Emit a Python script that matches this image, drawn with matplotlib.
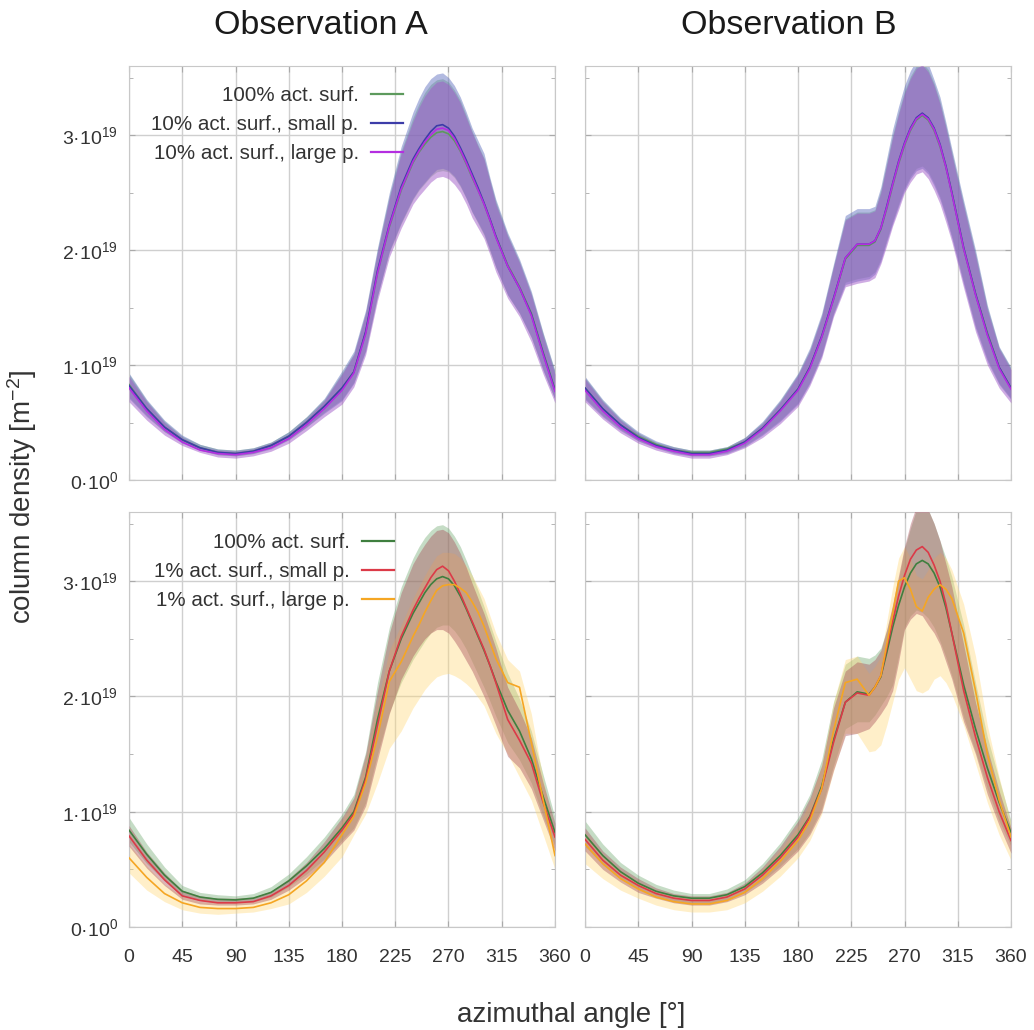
import matplotlib.pyplot as plt
from matplotlib.ticker import MultipleLocator
import numpy as np

plt.rcParams['font.family'] = ['Liberation Sans', 'DejaVu Sans']
plt.rcParams['mathtext.default'] = 'regular'

# azimuthal angle grid [deg], finer around the maxima
angles = [0, 15, 30, 45, 60, 75, 90, 105, 120, 135, 150, 165, 180, 190, 200, 210, 220, 230,
          240, 245, 250, 255, 260, 265, 270, 275, 280, 285, 290, 295, 300, 305, 310,
          320, 330, 340, 350, 360]

# --- Observation A, top (units of 1e19 m^-2) ---
a_top_100 = [0.83, 0.62, 0.46, 0.35, 0.28, 0.24, 0.23, 0.25, 0.30, 0.38, 0.50, 0.64, 0.80, 0.94, 1.28, 1.80, 2.20, 2.52,
             2.76, 2.85, 2.92, 2.98, 3.02, 3.03, 3.01, 2.95, 2.86, 2.75, 2.63, 2.52, 2.40, 2.26, 2.12,
             1.87, 1.68, 1.45, 1.11, 0.79]
a_top_100_lo = [0.72, 0.56, 0.42, 0.33, 0.26, 0.22, 0.21, 0.23, 0.28, 0.35, 0.46, 0.59, 0.70, 0.85, 1.13, 1.60, 1.98, 2.23,
                2.44, 2.52, 2.58, 2.64, 2.68, 2.69, 2.68, 2.63, 2.55, 2.45, 2.33, 2.23, 2.13, 1.99, 1.85,
                1.61, 1.45, 1.24, 0.96, 0.70]
a_top_100_hi = [0.92, 0.69, 0.51, 0.38, 0.31, 0.27, 0.26, 0.28, 0.33, 0.42, 0.55, 0.70, 0.93, 1.10, 1.46, 2.00, 2.47, 2.86,
                3.15, 3.27, 3.37, 3.44, 3.48, 3.49, 3.46, 3.39, 3.30, 3.17, 3.03, 2.91, 2.80, 2.61, 2.42,
                2.13, 1.90, 1.62, 1.27, 0.94]
a_top_10s = [0.82, 0.62, 0.46, 0.35, 0.28, 0.24, 0.23, 0.25, 0.30, 0.38, 0.50, 0.64, 0.80, 0.94, 1.29, 1.82, 2.22, 2.55,
             2.79, 2.88, 2.96, 3.03, 3.08, 3.09, 3.06, 2.99, 2.89, 2.78, 2.66, 2.54, 2.41, 2.27, 2.12,
             1.86, 1.67, 1.44, 1.10, 0.78]
a_top_10s_lo = [0.71, 0.55, 0.42, 0.32, 0.26, 0.22, 0.21, 0.23, 0.27, 0.35, 0.46, 0.58, 0.69, 0.84, 1.12, 1.60, 1.99, 2.24,
                2.45, 2.53, 2.59, 2.65, 2.70, 2.71, 2.69, 2.64, 2.56, 2.45, 2.33, 2.24, 2.14, 2.00, 1.85,
                1.61, 1.45, 1.24, 0.95, 0.70]
a_top_10s_hi = [0.93, 0.70, 0.52, 0.39, 0.31, 0.27, 0.26, 0.28, 0.33, 0.42, 0.55, 0.71, 0.95, 1.12, 1.48, 2.02, 2.50, 2.90,
                3.20, 3.32, 3.42, 3.49, 3.53, 3.54, 3.50, 3.43, 3.33, 3.20, 3.06, 2.95, 2.84, 2.63, 2.44,
                2.15, 1.92, 1.64, 1.28, 0.95]
a_top_10l = [0.80, 0.60, 0.44, 0.33, 0.26, 0.23, 0.22, 0.24, 0.28, 0.36, 0.48, 0.62, 0.78, 0.93, 1.27, 1.80, 2.21, 2.53,
             2.77, 2.86, 2.94, 3.00, 3.05, 3.06, 3.04, 2.97, 2.87, 2.76, 2.64, 2.52, 2.40, 2.26, 2.11,
             1.86, 1.67, 1.43, 1.09, 0.77]
a_top_10l_lo = [0.68, 0.52, 0.39, 0.30, 0.24, 0.20, 0.19, 0.21, 0.25, 0.32, 0.43, 0.55, 0.66, 0.81, 1.09, 1.56, 1.94, 2.19,
                2.40, 2.47, 2.53, 2.59, 2.63, 2.64, 2.62, 2.57, 2.50, 2.40, 2.28, 2.19, 2.10, 1.96, 1.81,
                1.58, 1.42, 1.20, 0.92, 0.67]
a_top_10l_hi = [0.90, 0.68, 0.50, 0.37, 0.29, 0.26, 0.25, 0.27, 0.32, 0.40, 0.53, 0.69, 0.92, 1.09, 1.45, 1.98, 2.45, 2.84,
                3.12, 3.24, 3.34, 3.41, 3.46, 3.47, 3.44, 3.37, 3.28, 3.15, 3.02, 2.90, 2.79, 2.60, 2.40,
                2.12, 1.89, 1.61, 1.25, 0.92]

# --- Observation B, top ---
b_top_100 = [0.80, 0.62, 0.48, 0.38, 0.31, 0.26, 0.24, 0.24, 0.27, 0.33, 0.45, 0.61, 0.79, 0.98, 1.24, 1.57, 1.92, 2.04,
             2.04, 2.07, 2.18, 2.36, 2.56, 2.75, 2.91, 3.04, 3.13, 3.17, 3.13, 3.04, 2.90, 2.72, 2.50,
             2.01, 1.62, 1.28, 0.98, 0.80]
b_top_100_lo = [0.71, 0.56, 0.44, 0.34, 0.28, 0.24, 0.21, 0.21, 0.24, 0.30, 0.40, 0.52, 0.67, 0.85, 1.09, 1.45, 1.72, 1.75,
                1.77, 1.81, 1.92, 2.09, 2.25, 2.40, 2.54, 2.64, 2.71, 2.73, 2.68, 2.58, 2.46, 2.30, 2.12,
                1.72, 1.34, 1.05, 0.84, 0.71]
b_top_100_hi = [0.89, 0.69, 0.53, 0.41, 0.33, 0.29, 0.26, 0.26, 0.29, 0.37, 0.50, 0.69, 0.92, 1.13, 1.43, 1.86, 2.27, 2.33,
                2.33, 2.35, 2.52, 2.76, 3.00, 3.20, 3.38, 3.51, 3.60, 3.63, 3.57, 3.45, 3.29, 3.08, 2.85,
                2.40, 1.97, 1.50, 1.15, 0.97]
b_top_10s = [0.80, 0.62, 0.48, 0.37, 0.30, 0.26, 0.23, 0.23, 0.26, 0.33, 0.45, 0.61, 0.79, 0.98, 1.25, 1.58, 1.93, 2.05,
             2.05, 2.08, 2.19, 2.38, 2.58, 2.77, 2.93, 3.06, 3.15, 3.19, 3.15, 3.06, 2.92, 2.73, 2.50,
             2.02, 1.62, 1.27, 0.98, 0.80]
b_top_10s_lo = [0.70, 0.55, 0.43, 0.34, 0.28, 0.23, 0.21, 0.21, 0.23, 0.29, 0.39, 0.51, 0.66, 0.84, 1.08, 1.44, 1.70, 1.73,
                1.75, 1.79, 1.90, 2.07, 2.23, 2.38, 2.52, 2.62, 2.69, 2.71, 2.66, 2.56, 2.44, 2.28, 2.10,
                1.70, 1.32, 1.03, 0.83, 0.70]
b_top_10s_hi = [0.90, 0.70, 0.54, 0.42, 0.34, 0.29, 0.26, 0.26, 0.29, 0.37, 0.51, 0.70, 0.93, 1.15, 1.45, 1.88, 2.30, 2.36,
                2.36, 2.38, 2.55, 2.80, 3.05, 3.25, 3.43, 3.56, 3.65, 3.68, 3.62, 3.48, 3.33, 3.11, 2.88,
                2.43, 2.00, 1.52, 1.16, 0.98]
b_top_10l = [0.78, 0.60, 0.46, 0.36, 0.29, 0.25, 0.22, 0.22, 0.25, 0.32, 0.44, 0.60, 0.78, 0.97, 1.24, 1.57, 1.93, 2.05,
             2.05, 2.08, 2.19, 2.37, 2.57, 2.76, 2.92, 3.05, 3.14, 3.18, 3.14, 3.05, 2.91, 2.72, 2.49,
             2.01, 1.61, 1.26, 0.97, 0.79]
b_top_10l_lo = [0.68, 0.53, 0.41, 0.32, 0.26, 0.22, 0.19, 0.19, 0.22, 0.28, 0.37, 0.49, 0.64, 0.82, 1.06, 1.42, 1.68, 1.71,
                1.73, 1.76, 1.88, 2.04, 2.21, 2.35, 2.50, 2.59, 2.66, 2.68, 2.62, 2.52, 2.40, 2.24, 2.07,
                1.67, 1.29, 1.00, 0.80, 0.67]
b_top_10l_hi = [0.88, 0.68, 0.52, 0.40, 0.32, 0.28, 0.25, 0.25, 0.28, 0.36, 0.49, 0.68, 0.91, 1.12, 1.42, 1.85, 2.26, 2.32,
                2.32, 2.34, 2.50, 2.74, 2.98, 3.18, 3.36, 3.49, 3.58, 3.61, 3.55, 3.43, 3.27, 3.06, 2.83,
                2.38, 1.95, 1.48, 1.14, 0.96]

# --- Observation A, bottom ---
a_bot_100 = [0.84, 0.63, 0.45, 0.31, 0.26, 0.24, 0.235, 0.25, 0.30, 0.40, 0.53, 0.68, 0.86, 1.00, 1.30, 1.80, 2.22, 2.50,
             2.72, 2.81, 2.90, 2.97, 3.02, 3.04, 3.02, 2.96, 2.87, 2.76, 2.64, 2.52, 2.40, 2.27, 2.13,
             1.88, 1.70, 1.46, 1.13, 0.82]
a_bot_100_lo = [0.74, 0.55, 0.40, 0.27, 0.23, 0.21, 0.21, 0.22, 0.26, 0.35, 0.46, 0.59, 0.75, 0.86, 1.08, 1.50, 1.86, 2.12,
                2.32, 2.40, 2.48, 2.55, 2.60, 2.62, 2.62, 2.57, 2.50, 2.41, 2.30, 2.19, 2.08, 1.96, 1.83,
                1.60, 1.45, 1.25, 0.96, 0.70]
a_bot_100_hi = [0.95, 0.72, 0.52, 0.36, 0.30, 0.28, 0.27, 0.29, 0.35, 0.46, 0.61, 0.78, 0.98, 1.15, 1.52, 2.12, 2.60, 2.95,
                3.20, 3.30, 3.38, 3.44, 3.48, 3.49, 3.46, 3.39, 3.30, 3.18, 3.05, 2.92, 2.78, 2.63, 2.48,
                2.20, 1.98, 1.70, 1.32, 0.95]
a_bot_1s = [0.79, 0.58, 0.41, 0.27, 0.23, 0.21, 0.21, 0.22, 0.27, 0.36, 0.49, 0.65, 0.84, 0.98, 1.28, 1.75, 2.22, 2.52,
            2.75, 2.85, 2.94, 3.03, 3.10, 3.13, 3.09, 3.00, 2.89, 2.77, 2.65, 2.53, 2.41, 2.27, 2.12,
            1.80, 1.62, 1.42, 1.08, 0.78]
a_bot_1s_lo = [0.70, 0.51, 0.36, 0.24, 0.20, 0.19, 0.19, 0.20, 0.24, 0.32, 0.43, 0.56, 0.73, 0.84, 1.05, 1.45, 1.85, 2.15,
               2.35, 2.43, 2.50, 2.55, 2.58, 2.58, 2.55, 2.48, 2.40, 2.31, 2.22, 2.11, 2.00, 1.88, 1.75,
               1.48, 1.38, 1.20, 0.93, 0.66]
a_bot_1s_hi = [0.88, 0.65, 0.47, 0.32, 0.27, 0.25, 0.25, 0.26, 0.31, 0.42, 0.56, 0.74, 0.95, 1.12, 1.50, 2.05, 2.55, 2.90,
               3.15, 3.24, 3.32, 3.39, 3.44, 3.45, 3.42, 3.34, 3.24, 3.12, 2.98, 2.85, 2.72, 2.57, 2.42,
               2.08, 1.88, 1.64, 1.25, 0.90]
a_bot_1l = [0.60, 0.43, 0.29, 0.21, 0.17, 0.16, 0.16, 0.17, 0.21, 0.28, 0.40, 0.56, 0.80, 0.96, 1.25, 1.65, 2.13, 2.30,
            2.52, 2.62, 2.73, 2.83, 2.92, 2.96, 2.97, 2.97, 2.94, 2.90, 2.82, 2.73, 2.61, 2.47, 2.33,
            2.12, 2.08, 1.60, 1.10, 0.62]
a_bot_1l_lo = [0.47, 0.32, 0.22, 0.15, 0.12, 0.11, 0.12, 0.13, 0.16, 0.20, 0.30, 0.44, 0.61, 0.80, 0.98, 1.25, 1.55, 1.70,
               1.90, 1.98, 2.06, 2.12, 2.17, 2.19, 2.20, 2.18, 2.15, 2.11, 2.06, 1.99, 1.92, 1.80, 1.68,
               1.50, 1.30, 1.10, 0.80, 0.50]
a_bot_1l_hi = [0.72, 0.53, 0.37, 0.27, 0.22, 0.21, 0.21, 0.22, 0.27, 0.36, 0.50, 0.68, 0.92, 1.10, 1.45, 1.95, 2.40, 2.62,
               2.85, 2.95, 3.05, 3.14, 3.22, 3.25, 3.25, 3.24, 3.20, 3.13, 3.05, 2.95, 2.85, 2.70, 2.55,
               2.32, 2.22, 1.85, 1.28, 0.75]

# --- Observation B, bottom ---
b_bot_100 = [0.80, 0.62, 0.48, 0.38, 0.31, 0.27, 0.25, 0.25, 0.28, 0.35, 0.47, 0.62, 0.80, 0.96, 1.22, 1.62, 1.95, 2.04,
             2.02, 2.08, 2.17, 2.38, 2.60, 2.79, 2.95, 3.07, 3.15, 3.18, 3.15, 3.07, 2.95, 2.77, 2.55,
             2.10, 1.72, 1.38, 1.08, 0.82]
b_bot_100_lo = [0.70, 0.54, 0.42, 0.33, 0.27, 0.23, 0.21, 0.21, 0.24, 0.30, 0.40, 0.53, 0.68, 0.82, 1.03, 1.40, 1.72, 1.78,
                1.78, 1.84, 1.92, 2.00, 2.10, 2.35, 2.60, 2.70, 2.75, 2.73, 2.68, 2.60, 2.48, 2.34, 2.18,
                1.82, 1.52, 1.20, 0.92, 0.70]
b_bot_100_hi = [0.92, 0.72, 0.56, 0.45, 0.37, 0.32, 0.29, 0.29, 0.33, 0.41, 0.55, 0.73, 0.95, 1.15, 1.45, 1.95, 2.28, 2.35,
                2.33, 2.36, 2.42, 2.58, 2.78, 3.02, 3.28, 3.46, 3.62, 3.68, 3.62, 3.50, 3.35, 3.20, 3.04,
                2.62, 2.12, 1.65, 1.28, 0.92]
b_bot_1s = [0.76, 0.58, 0.45, 0.36, 0.29, 0.25, 0.23, 0.23, 0.26, 0.33, 0.45, 0.60, 0.78, 0.95, 1.20, 1.60, 1.95, 2.03,
            2.01, 2.08, 2.18, 2.42, 2.65, 2.87, 3.05, 3.19, 3.27, 3.30, 3.25, 3.14, 3.00, 2.80, 2.55,
            2.05, 1.65, 1.30, 1.00, 0.75]
b_bot_1s_lo = [0.66, 0.50, 0.39, 0.30, 0.25, 0.21, 0.19, 0.19, 0.22, 0.28, 0.38, 0.51, 0.66, 0.80, 1.00, 1.36, 1.66, 1.68,
               1.72, 1.78, 1.85, 1.93, 2.05, 2.30, 2.58, 2.67, 2.72, 2.70, 2.62, 2.55, 2.45, 2.30, 2.15,
               1.78, 1.50, 1.15, 0.88, 0.64]
b_bot_1s_hi = [0.86, 0.66, 0.52, 0.42, 0.34, 0.29, 0.27, 0.27, 0.30, 0.38, 0.52, 0.70, 0.92, 1.12, 1.40, 1.90, 2.22, 2.30,
               2.28, 2.32, 2.40, 2.58, 2.80, 3.05, 3.30, 3.50, 3.65, 3.70, 3.62, 3.50, 3.35, 3.15, 2.95,
               2.45, 1.95, 1.55, 1.18, 0.86]
b_bot_1l = [0.72, 0.55, 0.42, 0.33, 0.26, 0.22, 0.20, 0.20, 0.23, 0.30, 0.42, 0.57, 0.75, 0.92, 1.20, 1.70, 2.12, 2.15,
            2.01, 2.08, 2.18, 2.45, 2.72, 3.00, 3.03, 2.93, 2.78, 2.74, 2.86, 2.93, 2.97, 2.93, 2.85,
            2.55, 2.05, 1.50, 1.10, 0.78]
b_bot_1l_lo = [0.55, 0.42, 0.32, 0.25, 0.19, 0.15, 0.13, 0.13, 0.15, 0.21, 0.31, 0.44, 0.60, 0.75, 0.98, 1.35, 1.68, 1.68,
               1.52, 1.53, 1.58, 1.75, 1.95, 2.15, 2.25, 2.15, 2.05, 2.03, 2.06, 2.15, 2.18, 2.12, 2.02,
               1.75, 1.42, 1.08, 0.80, 0.58]
b_bot_1l_hi = [0.82, 0.63, 0.49, 0.39, 0.31, 0.27, 0.25, 0.25, 0.28, 0.36, 0.50, 0.67, 0.88, 1.08, 1.40, 1.95, 2.32, 2.35,
               2.20, 2.26, 2.35, 2.65, 2.95, 3.20, 3.30, 3.20, 3.05, 3.02, 3.10, 3.20, 3.25, 3.20, 3.10,
               2.80, 2.35, 1.75, 1.30, 0.90]

labels_top = ["100% act. surf.", "10% act. surf., small p.", "10% act. surf., large p."]
labels_bot = ["100% act. surf.", "1% act. surf., small p.", "1% act. surf., large p."]
titles = ["Observation A", "Observation B"]
ytick_vals = [0, 1, 2, 3]
ytick_labels = ["0·10$^{0}$", "1·10$^{19}$", "2·10$^{19}$", "3·10$^{19}$"]
xticks = [0, 45, 90, 135, 180, 225, 270, 315, 360]

SCALE = 1e19

# (line colour, band colour, band alpha, band z-order)
top_style = [("#5d9a5d", "#6aa86a", 0.40, 1), ("#3c3ca8", "#5566bb", 0.45, 2), ("#b42ee0", "#a05ac8", 0.50, 3)]
bot_style = [("#3f7f3f", "#6fa86f", 0.40, 1), ("#dc3a48", "#a8505a", 0.42, 3), ("#f5a623", "#ffd978", 0.40, 2)]

fig = plt.figure(figsize=(10.34, 10.30), dpi=100)
W, H = 1034, 1030


def make_axes(x0, x1, ytop, ybot):
    return fig.add_axes([x0 / W, 1 - ybot / H, (x1 - x0) / W, (ybot - ytop) / H])


axes = {
    ("A", "top"): make_axes(129, 555, 66, 480),
    ("B", "top"): make_axes(585, 1011, 66, 480),
    ("A", "bot"): make_axes(129, 555, 512, 927),
    ("B", "bot"): make_axes(585, 1011, 512, 927),
}

panel_data = {
    ("A", "top"): [(a_top_100, a_top_100_lo, a_top_100_hi), (a_top_10s, a_top_10s_lo, a_top_10s_hi),
                   (a_top_10l, a_top_10l_lo, a_top_10l_hi)],
    ("B", "top"): [(b_top_100, b_top_100_lo, b_top_100_hi), (b_top_10s, b_top_10s_lo, b_top_10s_hi),
                   (b_top_10l, b_top_10l_lo, b_top_10l_hi)],
    ("A", "bot"): [(a_bot_100, a_bot_100_lo, a_bot_100_hi), (a_bot_1s, a_bot_1s_lo, a_bot_1s_hi),
                   (a_bot_1l, a_bot_1l_lo, a_bot_1l_hi)],
    ("B", "bot"): [(b_bot_100, b_bot_100_lo, b_bot_100_hi), (b_bot_1s, b_bot_1s_lo, b_bot_1s_hi),
                   (b_bot_1l, b_bot_1l_lo, b_bot_1l_hi)],
}

x = np.array(angles)
for (obs, row), ax in axes.items():
    styles = top_style if row == "top" else bot_style
    labels = labels_top if row == "top" else labels_bot
    series = panel_data[(obs, row)]

    for (mid, lo, hi), (lc, bc, ba, bz) in zip(series, styles):
        ax.fill_between(x, np.array(lo) * SCALE, np.array(hi) * SCALE, color=bc, alpha=ba, lw=0, zorder=bz)
    handles = []
    for (mid, lo, hi), (lc, bc, ba, bz), lab in zip(series, styles, labels):
        h, = ax.plot(x, np.array(mid) * SCALE, color=lc, lw=1.2, label=lab, zorder=5)
        handles.append(h)

    ax.set_xlim(0, 360)
    ax.set_ylim(0, 3.6 * SCALE)
    ax.set_xticks(xticks)
    ax.set_yticks([v * SCALE for v in ytick_vals])
    ax.yaxis.set_minor_locator(MultipleLocator(0.5 * SCALE))
    ax.grid(True, which="major", color="#cfcfcf", lw=1.0)
    ax.set_axisbelow(True)
    ax.tick_params(which="both", direction="in", top=True, right=True, colors="#aaaaaa",
                   labelcolor="#333333", labelsize=14)
    ax.tick_params(axis="y", pad=8)
    ax.tick_params(axis="x", pad=16)
    ax.tick_params(which="major", length=4)
    ax.tick_params(which="minor", length=3)
    for sp in ax.spines.values():
        sp.set_color("#c8c8c8")

    if obs == "A":
        ax.set_yticklabels(ytick_labels)
    else:
        ax.set_yticklabels([])
    if row == "top":
        ax.set_xticklabels([])
    else:
        ax.set_xticklabels([str(t) for t in xticks])

    if obs == "A":
        if row == "top":
            anchor = (0.643, 0.952)
        else:
            anchor = (0.622, 0.950)
        leg = ax.legend(handles=handles, loc="upper right", bbox_to_anchor=anchor, frameon=False,
                        markerfirst=False, fontsize=14.8, handlelength=1.55, handletextpad=0.6,
                        labelspacing=0.5, borderpad=0, borderaxespad=0)
        leg.set_zorder(10)
        for t in leg.get_texts():
            t.set_color("#333333")
        for ln in leg.get_lines():
            ln.set_linewidth(1.6)

fig.text(321 / W, 1 - 26 / H, titles[0], ha="center", va="center", fontsize=24.5, color="#1a1a1a")
fig.text(789 / W, 1 - 26 / H, titles[1], ha="center", va="center", fontsize=24.5, color="#1a1a1a")
fig.text(22 / W, 1 - 497 / H, "column density [m$^{-2}$]", rotation=90, ha="center", va="center",
         fontsize=20, color="#333333")
fig.text(571 / W, 1 - 1015 / H, "azimuthal angle [°]", ha="center", va="center", fontsize=20,
         color="#333333")

fig.savefig("out.png", dpi=100, facecolor="white")
